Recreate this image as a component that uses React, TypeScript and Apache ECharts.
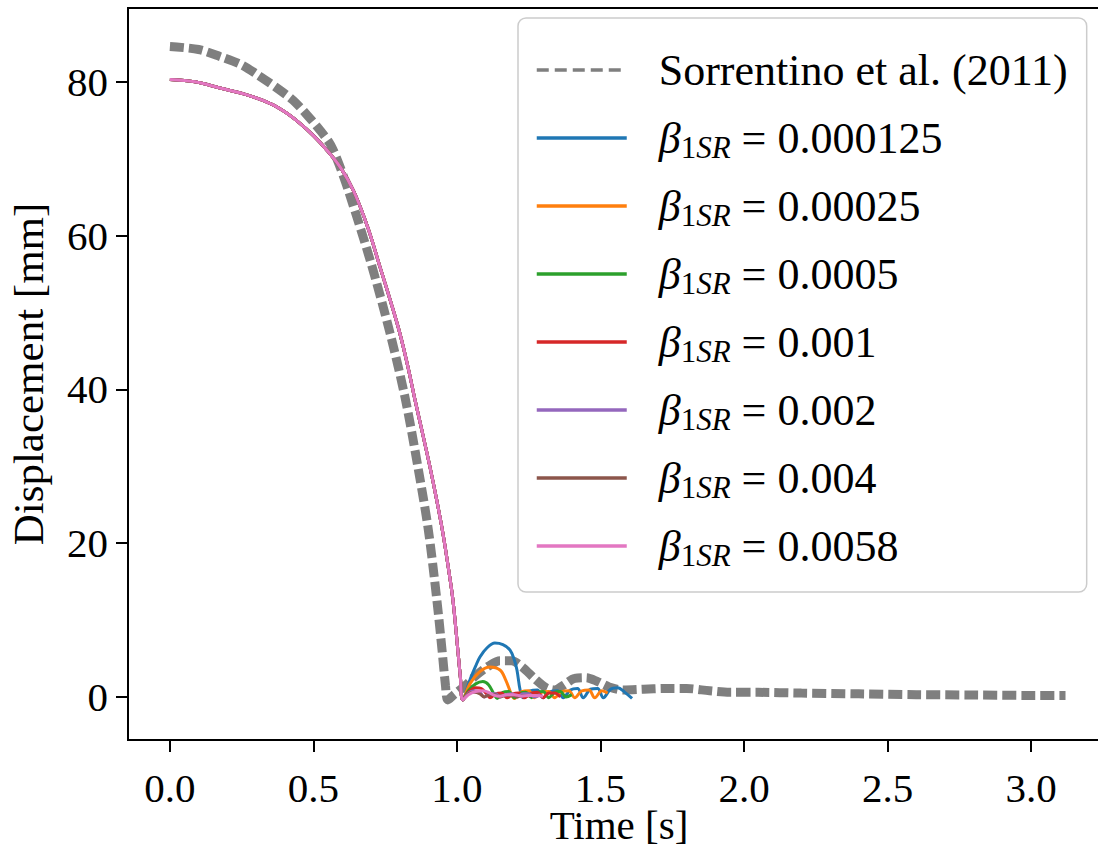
import React, { useEffect, useRef } from "react";
import * as echarts from "echarts";

// Reference measurement (Sorrentino et al., 2011)
const sorrentinoTime = [
  0, 0.1, 0.174, 0.25, 0.314, 0.38, 0.429, 0.48, 0.523, 0.56, 0.592, 0.625, 0.7, 0.767, 0.82, 0.864, 0.9, 0.93,
  0.948, 0.96, 0.968, 0.99, 1.03, 1.07, 1.11, 1.15, 1.19, 1.23, 1.27, 1.31, 1.34, 1.37, 1.41, 1.45, 1.49, 1.53,
  1.58, 1.65, 1.72, 1.8, 1.88, 1.95, 2.05, 2.2, 2.4, 2.6, 2.8, 3.0, 3.12,
];
const sorrentinoDisp = [
  84.6, 84.2, 83.3, 82.2, 80.7, 79.0, 77.6, 75.6, 73.7, 71.8, 69.0, 65.5, 56.5, 47.3, 38.8, 29.9, 21.8, 12.6,
  6.1, 1.5, -0.4, 0.3, 1.5, 2.9, 4.0, 4.7, 4.7, 3.8, 2.4, 1.2, 0.9, 1.5, 2.4, 2.5, 2.0, 1.3,
  0.9, 1.0, 1.1, 1.1, 0.8, 0.6, 0.6, 0.5, 0.4, 0.3, 0.25, 0.2, 0.2,
];

// Free rocking phase, shared by every simulation
const fallTime = [
  0, 0.087, 0.174, 0.26, 0.348, 0.4, 0.453, 0.5, 0.547, 0.595, 0.64, 0.69, 0.732, 0.77, 0.801, 0.83, 0.854, 0.88,
  0.906, 0.93, 0.951, 0.97, 0.986, 1.003, 1.012,
];
const fallDisp = [
  80.3, 80.0, 79.2, 78.4, 77.2, 76.1, 74.6, 73.0, 71.1, 68.8, 65.8, 61.0, 55.9, 51.3, 47.3, 42.8, 38.6, 34.3,
  29.9, 25.5, 21.3, 16.8, 12.6, 6.1, 2.5,
];

// Post-impact response for each β1SR
const betaLabels = ["0.000125", "0.00025", "0.0005", "0.001", "0.002", "0.004", "0.0058"];
const betaColors = ["#1f77b4", "#ff7f0e", "#2ca02c", "#d62728", "#9467bd", "#8c564b", "#e377c2"];

const bounceTime000125 = [
  1.02, 1.045, 1.065, 1.08, 1.105, 1.132, 1.16, 1.185, 1.2, 1.209, 1.22, 1.23, 1.255, 1.28, 1.3, 1.325, 1.35,
  1.37, 1.395, 1.42, 1.44, 1.465, 1.49, 1.51, 1.535, 1.56, 1.585, 1.61,
];
const bounceDisp000125 = [
  -0.4, 2.2, 4.0, 5.2, 6.4, 7.0, 6.8, 6.1, 4.8, 3.5, 0.9, -0.1, 0.8, 0.9, -0.1, 0.7, 0.8, -0.1, 0.9, 1.1, -0.1,
  1.0, 1.1, -0.1, 1.0, 1.2, 0.6, -0.2,
];

const bounceTime00025 = [
  1.02, 1.045, 1.08, 1.115, 1.15, 1.17, 1.19, 1.2, 1.225, 1.25, 1.27, 1.295, 1.32, 1.34, 1.365, 1.39, 1.41, 1.435,
  1.46, 1.48, 1.505, 1.525,
];
const bounceDisp00025 = [
  -0.4, 1.7, 3.3, 3.9, 3.5, 2.2, 0.3, -0.2, 0.7, 0.8, -0.1, 0.6, 0.7, -0.1, 0.7, 0.8, -0.1, 0.8, 0.9, -0.1, 0.8, 0.5,
];

const bounceTime0005 = [
  1.02, 1.04, 1.065, 1.09, 1.11, 1.13, 1.14, 1.16, 1.18, 1.2, 1.22, 1.24, 1.26, 1.28, 1.3, 1.32, 1.34, 1.36, 1.38, 1.4,
];
const bounceDisp0005 = [
  -0.4, 0.8, 1.7, 2.0, 1.6, 0.3, -0.2, 0.6, 0.7, -0.1, 0.5, 0.6, -0.1, 0.6, 0.7, -0.1, 0.6, 0.7, 0.0, 0.3,
];

const bounceTime001 = [
  1.02, 1.04, 1.065, 1.085, 1.105, 1.115, 1.135, 1.155, 1.175, 1.195, 1.215, 1.235, 1.26, 1.28, 1.3, 1.32, 1.34, 1.36,
];
const bounceDisp001 = [-0.4, 0.6, 1.2, 1.1, 0.3, -0.1, 0.4, 0.5, -0.1, 0.4, 0.5, -0.1, 0.5, 0.6, -0.1, 0.5, 0.5, 0.0];

const bounceTime002 = [1.02, 1.04, 1.06, 1.08, 1.095, 1.115, 1.135, 1.15, 1.17, 1.19, 1.21, 1.23, 1.25, 1.27, 1.29];
const bounceDisp002 = [-0.4, 0.5, 0.8, 0.6, 0.0, 0.4, 0.4, 0.0, 0.3, 0.4, 0.0, 0.4, 0.4, 0.0, 0.3];

const bounceTime004 = [1.02, 1.04, 1.06, 1.08, 1.095, 1.115, 1.135, 1.15, 1.17, 1.19, 1.21, 1.24, 1.26];
const bounceDisp004 = [-0.4, 0.4, 0.6, 0.4, 0.0, 0.3, 0.3, 0.0, 0.2, 0.2, 0.0, 0.2, 0.1];

const bounceTime0058 = [1.02, 1.04, 1.065, 1.09, 1.11, 1.13, 1.15, 1.175, 1.2, 1.225, 1.25, 1.275, 1.3];
const bounceDisp0058 = [-0.4, 0.3, 0.7, 0.8, 0.6, 0.2, 0.1, 0.3, 0.3, 0.1, 0.2, 0.2, 0.1];

const bounceTimes = [
  bounceTime000125, bounceTime00025, bounceTime0005, bounceTime001, bounceTime002, bounceTime004, bounceTime0058,
];
const bounceDisps = [
  bounceDisp000125, bounceDisp00025, bounceDisp0005, bounceDisp001, bounceDisp002, bounceDisp004, bounceDisp0058,
];

const xTicks = [0, 0.5, 1.0, 1.5, 2.0, 2.5, 3.0];
const yTicks = [0, 20, 40, 60, 80];

const referenceName = "Sorrentino et al. (2011)";
const FONT = "'Liberation Serif', 'Times New Roman', serif";

function pairs(ts: number[], ds: number[]) {
  return ts.map((t, i) => [t, ds[i]]);
}

export default function App() {
  const ref = useRef<HTMLDivElement>(null);

  useEffect(() => {
    if (!ref.current) return;
    const chart = echarts.init(ref.current, null, { renderer: "svg" });

    const simNames = betaLabels.map((b) => `β1SR = ${b}`);

    const series: any[] = [
      {
        name: referenceName,
        type: "line",
        data: pairs(sorrentinoTime, sorrentinoDisp),
        showSymbol: false,
        symbol: "none",
        smooth: 0.3,
        lineStyle: { color: "#7f7f7f", width: 9, type: [14, 5], cap: "butt" },
        itemStyle: { color: "#7f7f7f" },
        z: 1,
      },
      ...betaLabels.map((b, i) => ({
        name: simNames[i],
        type: "line",
        data: pairs(fallTime, fallDisp).concat(pairs(bounceTimes[i], bounceDisps[i])),
        showSymbol: false,
        symbol: "none",
        smooth: 0.35,
        lineStyle: { color: betaColors[i], width: 3 },
        itemStyle: { color: betaColors[i] },
        z: 2 + i,
      })),
    ];

    const legendData: any[] = [
      {
        name: referenceName,
        itemStyle: { opacity: 0 },
        lineStyle: { width: 3.5, type: [12, 6], color: "#7f7f7f" },
      },
      ...simNames.map((n, i) => ({
        name: n,
        itemStyle: { opacity: 0 },
        lineStyle: { width: 3.5, color: betaColors[i] },
      })),
    ];

    chart.setOption({
      animation: false,
      backgroundColor: "#ffffff",
      grid: {
        left: 128,
        top: 8,
        right: -12,
        bottom: 105,
        outerBoundsMode: "none",
        show: true,
        borderColor: "#000",
        borderWidth: 2,
        backgroundColor: "transparent",
      },
      xAxis: {
        type: "value",
        min: -0.146,
        max: 3.275,
        name: "Time [s]",
        nameLocation: "middle",
        nameGap: 68,
        nameMoveOverlap: false,
        nameTextStyle: { fontFamily: FONT, fontSize: 41, color: "#000", lineHeight: 34 },
        axisLine: { show: true, onZero: false, lineStyle: { color: "#000", width: 2 } },
        axisTick: { show: true, length: 12, customValues: xTicks, lineStyle: { color: "#000", width: 2 } },
        axisLabel: {
          customValues: xTicks,
          formatter: (v: number) => v.toFixed(1),
          fontFamily: FONT,
          fontSize: 41,
          lineHeight: 34,
          color: "#000",
          margin: 31,
        },
        splitLine: { show: false },
      },
      yAxis: {
        type: "value",
        min: -5.6,
        max: 89.6,
        name: "Displacement [mm]",
        nameLocation: "middle",
        nameGap: 78,
        nameMoveOverlap: false,
        nameTextStyle: { fontFamily: FONT, fontSize: 43, color: "#000" },
        axisLine: { show: true, onZero: false, lineStyle: { color: "#000", width: 2 } },
        axisTick: { show: true, length: 12, customValues: yTicks, lineStyle: { color: "#000", width: 2 } },
        axisLabel: {
          customValues: yTicks,
          formatter: (v: number) => String(Math.round(v)),
          fontFamily: FONT,
          fontSize: 41,
          color: "#000",
          margin: 20,
        },
        splitLine: { show: false },
      },
      legend: {
        orient: "vertical",
        left: 518,
        top: 18,
        padding: [27, 19, 21, 17],
        itemGap: 18,
        itemWidth: 90,
        itemHeight: 20,
        selectedMode: false,
        backgroundColor: "rgba(255,255,255,0.8)",
        borderColor: "#cccccc",
        borderWidth: 1.5,
        borderRadius: 8,
        itemStyle: { opacity: 0 },
        data: legendData,
        formatter: (name: string) => {
          const i = simNames.indexOf(name);
          if (i < 0) return name;
          return `{g|β}{s|1}{si|SR}{n| = ${betaLabels[i]}}`;
        },
        textStyle: {
          fontFamily: FONT,
          fontSize: 44,
          color: "#000",
          lineHeight: 50,
          padding: [0, 0, 0, 27],
          rich: {
            g: { fontFamily: FONT, fontSize: 44, fontStyle: "italic", color: "#000", lineHeight: 50 },
            s: { fontFamily: FONT, fontSize: 31, color: "#000", lineHeight: 24, verticalAlign: "bottom" },
            si: {
              fontFamily: FONT,
              fontSize: 31,
              fontStyle: "italic",
              color: "#000",
              lineHeight: 24,
              verticalAlign: "bottom",
            },
            n: { fontFamily: FONT, fontSize: 44, color: "#000", lineHeight: 50 },
          },
        },
      },
      series,
    });

    return () => chart.dispose();
  }, []);

  return (
    <div
      ref={ref}
      style={{ position: "fixed", left: 0, top: 0, width: 1098, height: 845, background: "#fff" }}
    />
  );
}
